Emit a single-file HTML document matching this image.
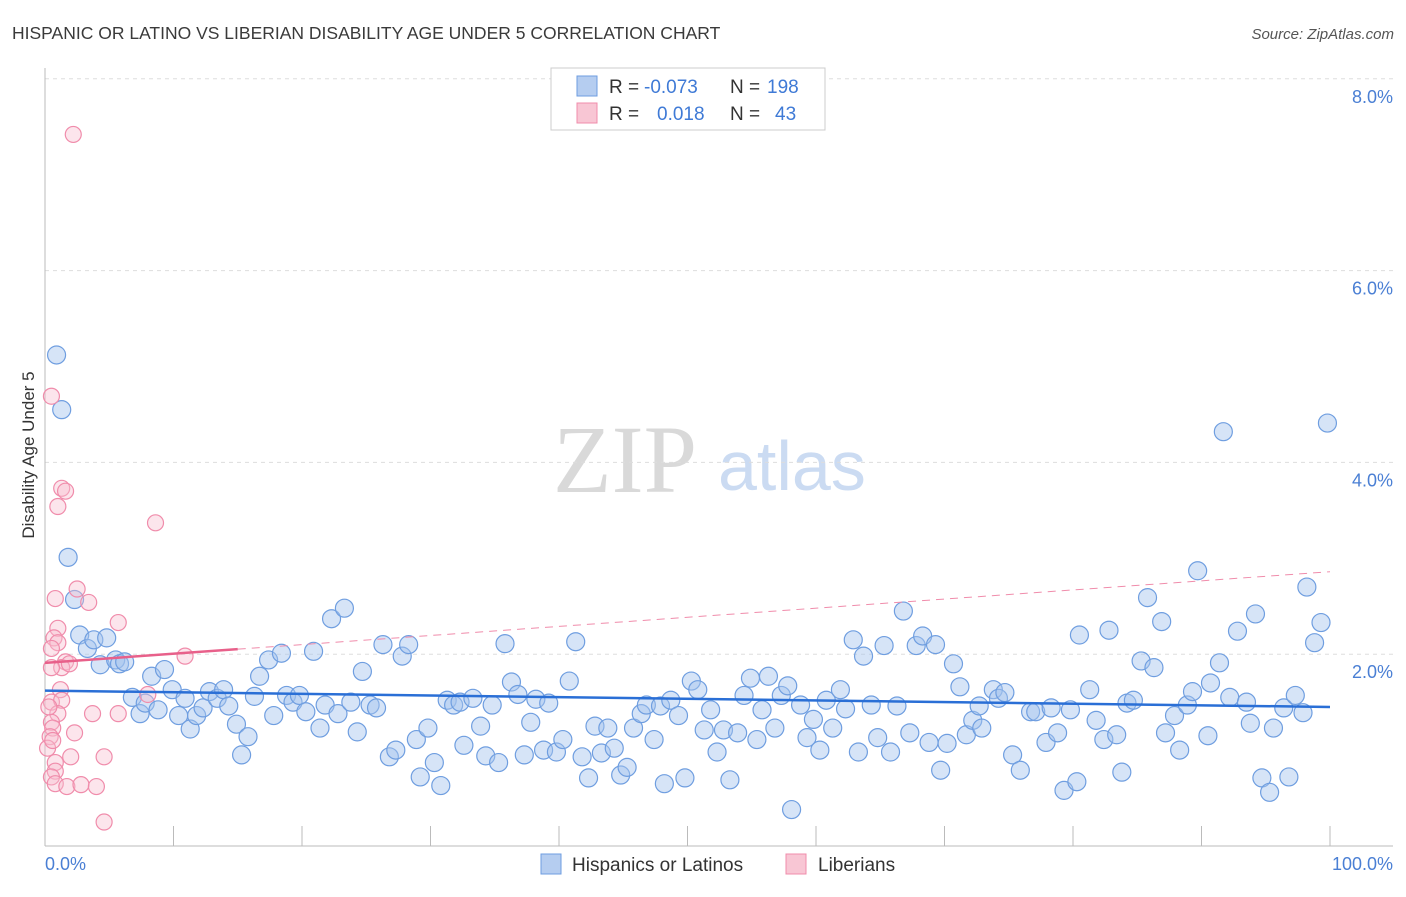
<!DOCTYPE html>
<html><head><meta charset="utf-8"><style>
body{margin:0;background:#fff;font-family:"Liberation Sans",sans-serif;}
</style></head><body>
<svg id="chart" width="1406" height="892" viewBox="0 0 1406 892" xmlns="http://www.w3.org/2000/svg">
<text x="12" y="39" font-size="17.5" fill="#3a3a3a">HISPANIC OR LATINO VS LIBERIAN DISABILITY AGE UNDER 5 CORRELATION CHART</text>
<text x="1394" y="39" font-size="15" fill="#555" font-style="italic" text-anchor="end">Source: ZipAtlas.com</text>
<g>
<text x="553" y="492" font-family="Liberation Serif,serif" font-size="96" fill="#d0d0d0" opacity="0.8">ZIP</text>
<text x="718" y="490" font-size="70" fill="#a9c4ea" opacity="0.6">atlas</text>
</g>
<g id="grid"></g>
<g id="axes"></g>
<g id="marks"></g>
<g>
<rect x="551" y="68" width="274" height="62" fill="#fff" stroke="#ccc"/>
<rect x="577" y="76" width="20" height="20" fill="#b5cdf0" stroke="#6e9de0"/>
<rect x="577" y="103" width="20" height="20" fill="#f8c6d4" stroke="#f08cab"/>
<text x="609" y="93" font-size="19" fill="#333">R =</text>
<text x="644" y="93" font-size="19" fill="#3f7ad6">-0.073</text>
<text x="730" y="93" font-size="19" fill="#333">N =</text>
<text x="767" y="93" font-size="19" fill="#3f7ad6">198</text>
<text x="609" y="120" font-size="19" fill="#333">R =</text>
<text x="657" y="120" font-size="19" fill="#3f7ad6">0.018</text>
<text x="730" y="120" font-size="19" fill="#333">N =</text>
<text x="775" y="120" font-size="19" fill="#3f7ad6">43</text>
</g>
<g>
<rect x="541" y="854" width="20" height="20" fill="#b5cdf0" stroke="#6e9de0"/>
<text x="572" y="871" font-size="19" fill="#333">Hispanics or Latinos</text>
<rect x="786" y="854" width="20" height="20" fill="#f8c6d4" stroke="#f08cab"/>
<text x="818" y="871" font-size="19" fill="#333">Liberians</text>
</g>
<text transform="translate(34,455) rotate(-90)" font-size="17" fill="#333" text-anchor="middle">Disability Age Under 5</text>
</svg>
<script>
const blueX=[0.9,1.3,1.8,2.3,2.7,3.3,3.8,4.3,4.8,5.5,5.8,6.2,6.8,7.4,7.8,8.3,8.8,9.3,9.9,10.4,10.9,11.3,11.8,12.3,12.8,13.4,13.9,14.3,14.9,15.3,15.8,16.3,16.7,17.4,17.8,18.4,18.8,19.3,19.8,20.3,20.9,21.4,21.8,22.3,22.8,23.3,23.8,24.3,24.7,25.3,25.8,26.3,26.8,27.3,27.8,28.3,28.9,29.2,29.8,30.3,30.8,31.3,31.8,32.3,32.6,33.3,33.9,34.3,34.8,35.3,35.8,36.3,36.8,37.3,37.8,38.2,38.8,39.2,39.8,40.3,40.8,41.3,41.8,42.3,42.8,43.3,43.8,44.3,44.8,45.3,45.8,46.4,46.8,47.4,47.9,48.2,48.7,49.3,49.8,50.3,50.8,51.3,51.8,52.3,52.8,53.3,53.9,54.4,54.9,55.4,55.8,56.3,56.8,57.3,57.8,58.1,58.8,59.3,59.8,60.3,60.8,61.3,61.9,62.3,62.9,63.3,63.7,64.3,64.8,65.3,65.8,66.3,66.8,67.3,67.8,68.3,68.8,69.3,69.7,70.2,70.7,71.2,71.7,72.2,72.7,72.9,73.8,74.2,74.7,75.3,75.9,76.7,77.1,77.9,78.3,78.8,79.3,79.8,80.3,80.5,81.3,81.8,82.4,82.8,83.4,83.8,84.2,84.7,85.3,85.8,86.3,86.9,87.2,87.9,88.3,88.9,89.3,89.7,90.5,90.7,91.4,91.7,92.2,92.8,93.5,93.8,94.2,94.7,95.3,95.6,96.4,96.8,97.3,97.9,98.2,98.8,99.3,99.8];
const blueY=[5.12,4.55,3.01,2.57,2.20,2.06,2.15,1.89,2.17,1.94,1.90,1.92,1.55,1.38,1.49,1.77,1.42,1.84,1.63,1.36,1.54,1.22,1.36,1.44,1.61,1.54,1.63,1.46,1.27,0.95,1.14,1.56,1.77,1.94,1.36,2.01,1.57,1.50,1.57,1.40,2.03,1.23,1.47,2.37,1.38,2.48,1.50,1.19,1.82,1.47,1.44,2.10,0.93,1.00,1.98,2.10,1.11,0.72,1.23,0.87,0.63,1.52,1.47,1.50,1.05,1.54,1.25,0.94,1.47,0.87,2.11,1.71,1.58,0.95,1.29,1.53,1.00,1.49,0.98,1.11,1.72,2.13,0.93,0.71,1.25,0.97,1.23,1.02,0.74,0.82,1.23,1.38,1.47,1.11,1.46,0.65,1.52,1.36,0.71,1.72,1.63,1.21,1.42,0.98,1.21,0.69,1.18,1.57,1.75,1.11,1.42,1.77,1.23,1.57,1.67,0.38,1.47,1.13,1.32,1.00,1.52,1.23,1.63,1.43,2.15,0.98,1.98,1.47,1.13,2.09,0.98,1.46,2.45,1.18,2.09,2.19,1.08,2.10,0.79,1.07,1.90,1.66,1.16,1.31,1.46,1.23,1.63,1.54,1.60,0.95,0.79,1.40,1.40,1.08,1.44,1.18,0.58,1.42,0.67,2.20,1.63,1.31,1.11,2.25,1.16,0.77,1.49,1.52,1.93,2.59,1.86,2.34,1.18,1.36,1.00,1.47,1.61,2.87,1.15,1.70,1.91,4.32,1.55,2.24,1.50,1.28,2.42,0.71,0.56,1.23,1.44,0.72,1.57,1.39,2.70,2.12,2.33,4.41];
const pinkX=[2.2,0.5,1.3,1.6,1.0,8.6,2.5,0.8,3.4,5.7,1.0,0.7,1.0,0.5,10.9,1.6,1.3,0.5,8.0,1.2,0.5,1.3,1.0,3.7,5.7,0.5,0.6,2.3,0.4,0.2,2.0,4.6,0.8,0.8,0.5,0.8,1.7,2.8,4.0,4.6,0.3,1.9,0.6];
const pinkY=[7.42,4.69,3.73,3.70,3.54,3.37,2.68,2.58,2.54,2.33,2.27,2.17,2.12,2.06,1.98,1.92,1.86,1.86,1.58,1.63,1.50,1.52,1.38,1.38,1.38,1.29,1.23,1.18,1.14,1.02,0.93,0.93,0.87,0.78,0.72,0.65,0.62,0.64,0.62,0.25,1.45,1.90,1.10];
const blueTrend=[1.62,1.45];   // value at x=0, x=100
const pinkTrend=[1.91,2.86];   // value at x=0, x=100
const pinkSolidEnd=15;
const yTicks=[2,4,6,8];
const yTickLabels=["2.0%","4.0%","6.0%","8.0%"];
const xTicks=[0,10,20,30,40,50,60,70,80,90,100];
const xTickLabels=["0.0%","100.0%"];

const NS="http://www.w3.org/2000/svg";
const X0=45,X1=1330,Y0=846,YS=95.9;
const sx=v=>X0+(v/100)*(X1-X0);
const sy=v=>Y0-v*YS;
function mk(tag,attrs,parent){const e=document.createElementNS(NS,tag);for(const k in attrs)e.setAttribute(k,attrs[k]);parent.appendChild(e);return e;}
const grid=document.getElementById('grid'),axes=document.getElementById('axes'),marks=document.getElementById('marks');
yTicks.forEach((t,i)=>{
  const l=mk('line',{x1:X0,x2:1393,y1:sy(t),y2:sy(t),stroke:'#ddd','stroke-dasharray':'4,4'},grid);
  
  
  const tx=mk('text',{x:1393,y:sy(t)+24,'font-size':18,fill:'#4a7fd4','text-anchor':'end'},axes);
  tx.textContent=yTickLabels[i];
  
  
});
const la=mk('line',{x1:X0,x2:X0,y1:68,y2:Y0,stroke:'#bbb'},axes);


const ba=mk('line',{x1:X0,x2:1393,y1:Y0,y2:Y0,stroke:'#bbb'},axes);


xTicks.forEach(t=>{
  const l=mk('line',{x1:sx(t),x2:sx(t),y1:826,y2:Y0,stroke:'#bbb'},axes);
  
  
});
const xl0=mk('text',{x:45,y:870,'font-size':18,fill:'#4a7fd4'},axes);
xl0.textContent=xTickLabels[0];


const xl1=mk('text',{x:1393,y:870,'font-size':18,fill:'#4a7fd4','text-anchor':'end'},axes);
xl1.textContent=xTickLabels[1];



blueX.forEach((v,i)=>{
  const c=mk('circle',{cx:sx(v),cy:sy(blueY[i]),r:9,fill:'rgba(165,195,238,0.45)',stroke:'#6f9ee0','stroke-width':1.2},marks);
  
  
});
pinkX.forEach((v,i)=>{
  const c=mk('circle',{cx:sx(v),cy:sy(pinkY[i]),r:8,fill:'rgba(248,190,208,0.4)',stroke:'#f08cab','stroke-width':1.2},marks);
  
  
});
const pv=x=>pinkTrend[0]+(pinkTrend[1]-pinkTrend[0])*x/100;
const pd=mk('line',{x1:sx(pinkSolidEnd),y1:sy(pv(pinkSolidEnd)),x2:sx(100),y2:sy(pv(100)),stroke:'#f08cab','stroke-width':1,'stroke-dasharray':'8,6'},marks);


const ps=mk('line',{x1:sx(0),y1:sy(pv(0)),x2:sx(pinkSolidEnd),y2:sy(pv(pinkSolidEnd)),stroke:'#e8608a','stroke-width':2.5},marks);


const bt=mk('line',{x1:sx(0),y1:sy(blueTrend[0]),x2:sx(100),y2:sy(blueTrend[1]),stroke:'#2a6fd6','stroke-width':2.5},marks);


</script>
</body></html>
